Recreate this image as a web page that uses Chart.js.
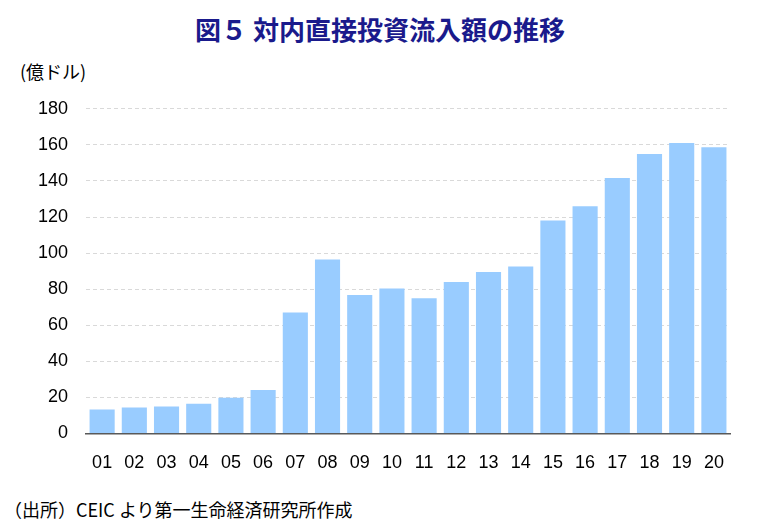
<!DOCTYPE html>
<html><head><meta charset="utf-8">
<script src="https://cdn.jsdelivr.net/npm/chart.js@4"></script>
<style>
body{margin:0;width:760px;height:532px;background:#fff;font-family:"Noto Sans CJK JP",sans-serif;position:relative;overflow:hidden}
#title{position:absolute;top:10px;left:0;width:760px;text-align:center;font-size:26px;font-weight:bold;color:#1a1a8c}
#unit{position:absolute;top:58px;left:20px;font-size:18px;color:#000}
#note{position:absolute;top:496px;left:4px;font-size:18px;color:#000}
#box{position:absolute;left:20px;top:80px;width:720px;height:405px}
</style></head><body>
<div id="title">図５ 対内直接投資流入額の推移</div>
<div id="unit">(億ドル)</div>
<div id="box"><canvas id="c"></canvas></div>
<div id="note">（出所）CEIC より第一生命経済研究所作成</div>
<script>
const years = ['01','02','03','04','05','06','07','08','09','10','11','12','13','14','15','16','17','18','19','20'];
const inflows = [13.3,14.4,14.9,16.5,19.7,24,67,96.4,76.7,80.4,75,84,89.5,92.6,118,126,141.6,155,161,158.7];
new Chart(document.getElementById('c'), {
  type: 'bar',
  data: { labels: years, datasets: [{ data: inflows, backgroundColor: '#99CCFF', categoryPercentage: 0.78, barPercentage: 1 }] },
  options: {
    responsive: true, maintainAspectRatio: false, animation: false,
    layout: { padding: { right: 10 } },
    plugins: { legend: { display: false }, tooltip: { enabled: false } },
    scales: {
      y: { min: 0, max: 180, ticks: { stepSize: 20, color: '#000', font: { size: 18 }, padding: 18 },
           grid: { color: '#d9d9d9', drawTicks: false }, border: { display: false, dash: [4, 3] } },
      x: { ticks: { color: '#000', font: { size: 18 }, padding: 11 },
           grid: { display: false }, border: { color: '#595959', width: 1.5 } }
    }
  }
});
</script>
</body></html>
